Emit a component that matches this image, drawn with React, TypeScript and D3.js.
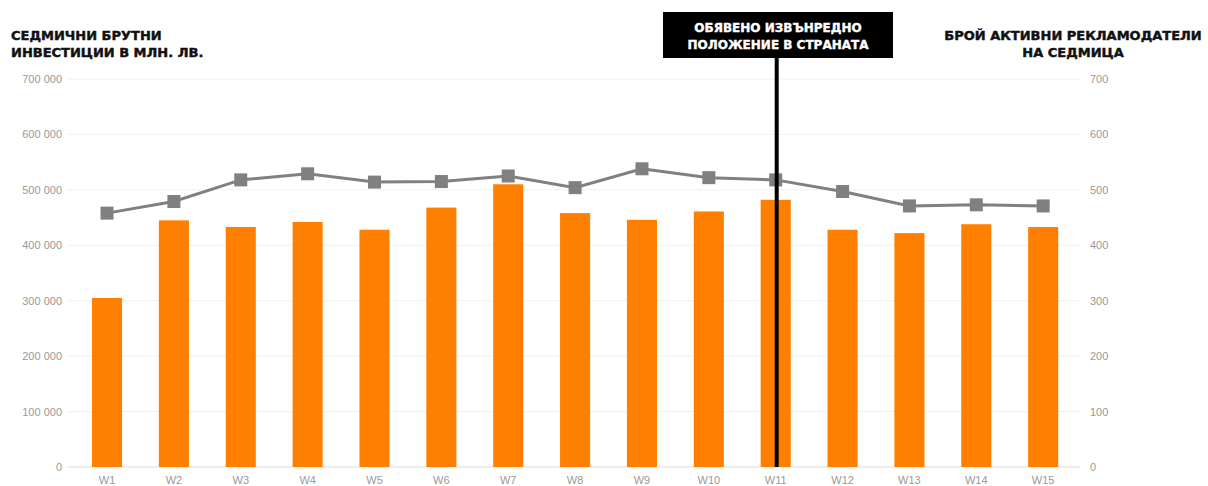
import React from "react";
import * as d3 from "d3";

const weeks = ["W1","W2","W3","W4","W5","W6","W7","W8","W9","W10","W11","W12","W13","W14","W15"];
const investments = [305000,445000,433000,442000,428000,468000,510000,458000,446000,461000,482000,428000,422000,438000,433000];
const advertisers = [458,479,518,529,514,515,525,504,538,522,518,497,471,473,471];
const leftTicks = [0,100000,200000,300000,400000,500000,600000,700000];
const rightTicks = [0,100,200,300,400,500,600,700];
const leftTitle = ["СЕДМИЧНИ БРУТНИ", "ИНВЕСТИЦИИ В МЛН. ЛВ."];
const rightTitle = ["БРОЙ АКТИВНИ РЕКЛАМОДАТЕЛИ", "НА СЕДМИЦА"];
const eventLabel = ["ОБЯВЕНО ИЗВЪНРЕДНО", "ПОЛОЖЕНИЕ В СТРАНАТА"];
const eventWeek = "W11";

const W = 1208, H = 486;
const left = 73.6, right = 1076.6, top = 79, bottom = 467;

export default function App() {
  const x = d3.scaleBand<string>().domain(weeks).range([left, right]).paddingInner(0.55).paddingOuter(0.275);
  const yL = d3.scaleLinear().domain([0, 700000]).range([bottom, top]);
  const yR = d3.scaleLinear().domain([0, 700]).range([bottom, top]);
  const cx = (w: string) => (x(w) as number) + x.bandwidth() / 2;
  const fmt = (v: number) => d3.format(",")(v).replace(/,/g, " ");
  const line = d3.line<number>().x((_, i) => cx(weeks[i])).y(d => yR(d));
  const ex = cx(eventWeek);
  const tickFont = "'Liberation Sans', Arial, sans-serif";
  const titleFont = "'DejaVu Sans', sans-serif";
  return (
    <svg width={W} height={H} style={{ position: "absolute", left: 0, top: 0, background: "#fff" }}>
      {leftTicks.map(t => (
        <g key={t}>
          <line x1={68} x2={1080} y1={yL(t)} y2={yL(t)} stroke={t === 0 ? "#ddd" : "#f0f0f0"} strokeWidth={1} />
          <text x={62} y={yL(t) + 4} textAnchor="end" fontFamily={tickFont} fontSize={11} fill="#999">{fmt(t)}</text>
        </g>
      ))}
      {rightTicks.map(t => (
        <text key={t} x={1090} y={yR(t) + 4} textAnchor="start" fontFamily={tickFont} fontSize={11} fill="#999">{t}</text>
      ))}
      {weeks.map((w, i) => (
        <rect key={w} x={x(w)} y={yL(investments[i])} width={x.bandwidth()} height={bottom - yL(investments[i])} fill="#ff8000" />
      ))}
      {weeks.map(w => (
        <text key={w} x={cx(w)} y={484} textAnchor="middle" fontFamily={tickFont} fontSize={11} fill="#999">{w}</text>
      ))}
      <path d={line(advertisers) as string} fill="none" stroke="#808080" strokeWidth={3} />
      {advertisers.map((v, i) => (
        <rect key={i} x={cx(weeks[i]) - 6.5} y={yR(v) - 6.5} width={13} height={13} fill="#808080" />
      ))}
      <line x1={ex + 1} x2={ex + 1} y1={56} y2={bottom} stroke="#000" strokeWidth={4} />
      <rect x={663} y={12} width={230} height={46} fill="#000" />
      {eventLabel.map((l, i) => (
        <text key={i} x={778} y={32 + i * 17} textAnchor="middle" fontFamily={titleFont} fontWeight="bold" fontSize={12} fill="#fff" stroke="#fff" strokeWidth={0.4}>{l}</text>
      ))}
      {leftTitle.map((l, i) => (
        <text key={i} x={11} y={40 + i * 17} textAnchor="start" fontFamily={titleFont} fontWeight="bold" fontSize={13} fill="#111" stroke="#111" strokeWidth={0.45}>{l}</text>
      ))}
      {rightTitle.map((l, i) => (
        <text key={i} x={1073} y={40 + i * 17} textAnchor="middle" fontFamily={titleFont} fontWeight="bold" fontSize={13} fill="#111" stroke="#111" strokeWidth={0.45}>{l}</text>
      ))}
    </svg>
  );
}
